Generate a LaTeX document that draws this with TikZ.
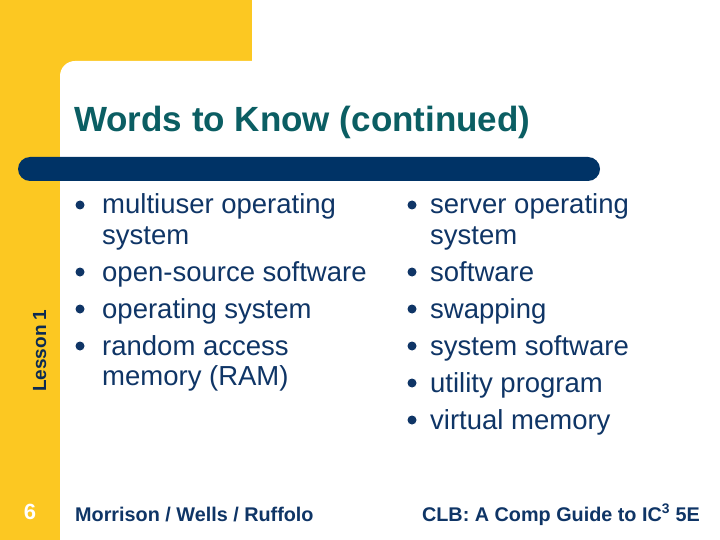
\documentclass[tikz,border=0pt]{standalone}
\usepackage{fontspec}
\setmainfont{Liberation Sans}
\definecolor{yel}{HTML}{FCC822}
\definecolor{navy}{HTML}{0F3566}
\definecolor{bar}{HTML}{003366}
\definecolor{teal}{HTML}{0B5E63}
\begin{document}
\begin{tikzpicture}[x=1pt,y=-1pt,
  body/.style={anchor=base west,inner sep=0pt,text=navy,font=\fontsize{27.5}{30}\selectfont},
  bul/.style={circle,fill=navy,inner sep=0pt,minimum size=9pt},
  foot/.style={anchor=base west,inner sep=0pt,text=navy,font=\fontsize{19.8}{22}\selectfont\bfseries}]
\useasboundingbox (0,0) rectangle (720,540);
\fill[yel] (0,0) rectangle (252,80);
\fill[yel] (0,0) rectangle (60,540);
\fill[white,rounded corners=15] (60,61) rectangle (760,600);
\fill[bar,rounded corners=12] (18,157) rectangle (600,181);
\node[anchor=base west,inner sep=0pt,text=teal,font=\fontsize{35}{38}\selectfont\bfseries] (title) at (74,132) {Words to Know (continued)};
\node[rotate=90,anchor=base west,inner sep=0pt,text=navy!80!black,font=\fontsize{19}{20}\selectfont\bfseries] (lesson) at (46,392) {Lesson 1};
\node[anchor=base,inner sep=0pt,text=white,font=\fontsize{22}{24}\selectfont\bfseries] (num) at (30,519) {6};
% left column
\node[bul] (b1) at (80,205) {}; \node[body] (t1) at (102,214) {multiuser operating};
\node[body] (t1b) at (102,244) {system};
\node[bul] (b2) at (80,272) {}; \node[body] (t2) at (102,281) {open-source software};
\node[bul] (b3) at (80,309) {}; \node[body] (t3) at (102,318) {operating system};
\node[bul] (b4) at (80,346) {}; \node[body] (t4) at (102,355) {random access};
\node[body] (t4b) at (102,385) {memory (RAM)};
% right column
\node[bul] (c1) at (412,205) {}; \node[body] (u1) at (430,214) {server operating};
\node[body] (u1b) at (430,244) {system};
\node[bul] (c2) at (412,272) {}; \node[body] (u2) at (430,281) {software};
\node[bul] (c3) at (412,309) {}; \node[body] (u3) at (430,318) {swapping};
\node[bul] (c4) at (412,346) {}; \node[body] (u4) at (430,355) {system software};
\node[bul] (c5) at (412,383) {}; \node[body] (u5) at (430,392) {utility program};
\node[bul] (c6) at (412,420) {}; \node[body] (u6) at (430,429) {virtual memory};
\node[foot] (f1) at (75,521) {Morrison / Wells / Ruffolo};
\node[foot,anchor=base east] (f2) at (700,521) {CLB: A Comp Guide to IC\textsuperscript{3} 5E};
\end{tikzpicture}
\end{document}
